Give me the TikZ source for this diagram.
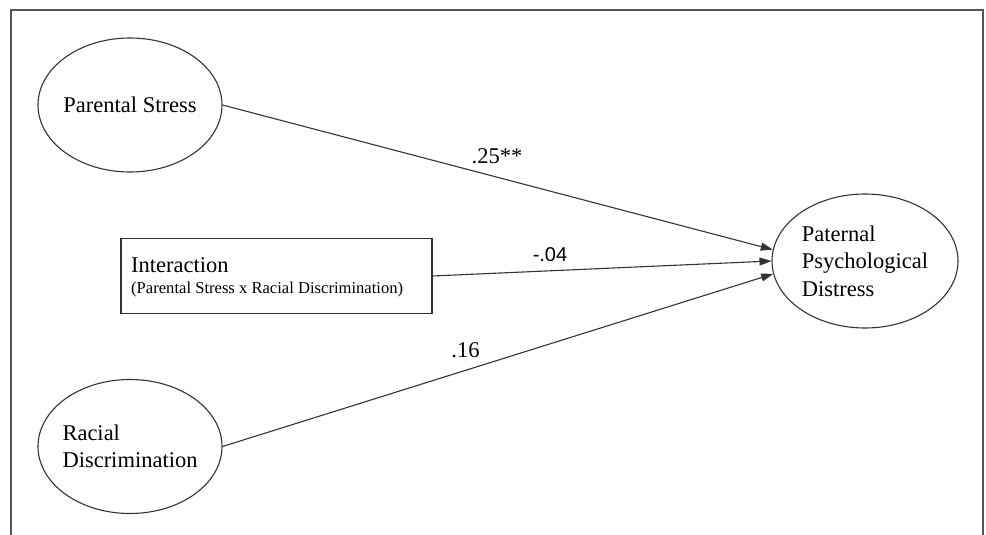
\documentclass[tikz,border=0pt]{standalone}
\usepackage{fontspec}
\setmainfont{Liberation Serif}
\newfontfamily\arialfont{Liberation Sans}
\usetikzlibrary{shapes.geometric,arrows.meta}
\definecolor{ln}{HTML}{333333}
\definecolor{fr}{HTML}{555555}
\begin{document}
\begin{tikzpicture}[x=1pt,y=-1pt,
  lat/.style={draw=ln,line width=1.1pt,ellipse,minimum width=184pt,minimum height=134pt,inner sep=0pt},
  big/.style={font=\fontsize{22.5}{27.5}\selectfont,text=black,inner sep=0pt},
  small/.style={font=\fontsize{16.6}{20}\selectfont,text=black,inner sep=0pt},
  path/.style={draw=ln,line width=1.1pt,-{Triangle[length=12pt,width=8pt]}}]
\useasboundingbox (0,0) rectangle (986,535);
\draw[fr,line width=1.6pt] (11,535) -- (11,10) -- (983,10) -- (983,535);
% nodes
\node[lat] (ps) at (130,105) {};
\node[big] (pstext) at (ps.center) {Parental Stress};
\node[lat] (rd) at (130,446.5) {};
\node[big,align=left] (rdtext) at (rd.center) {Racial\\Discrimination};
\node[lat,minimum width=186pt] (ppd) at (865,261) {};
\node[big,align=left] (ppdtext) at (ppd.center) {Paternal\\Psychological\\Distress};
\node[draw=ln,line width=1.1pt,minimum width=311pt,minimum height=75pt,inner sep=0pt] (int) at (276.5,276) {};
\node[big,anchor=base west] (inttext) at (131,272) {Interaction};
\node[small,anchor=base west] (intsub) at (131,293) {(Parental Stress x Racial Discrimination)};
% paths
\draw[path] (ps.east) -- (ppd.173.8);
\draw[path] (int.east) -- (ppd.180);
\draw[path] (rd.east) -- (ppd.188.7);
% labels
\node[big,anchor=base] (l1) at (497,163) {.25**};
\node[font=\arialfont\fontsize{20}{24}\selectfont,inner sep=0pt,anchor=base] (l2) at (550,261) {-.04};
\node[big,anchor=base] (l3) at (465.5,357) {.16};
\end{tikzpicture}
\end{document}
